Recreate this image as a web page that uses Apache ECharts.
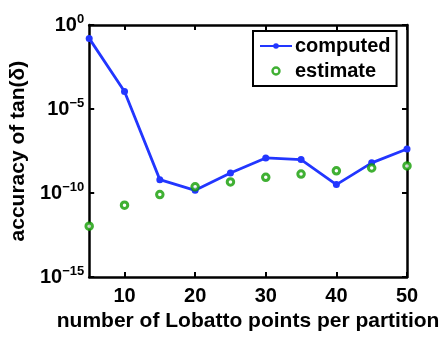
<!DOCTYPE html>
<html>
<head>
<meta charset="utf-8">
<script src="https://cdn.jsdelivr.net/npm/echarts@6/dist/echarts.min.js"></script>
<style>html,body{margin:0;padding:0;background:#fff}#c{width:448px;height:337px}</style>
</head>
<body>
<div id="c"></div>
<script>
const points = [5, 10, 15, 20, 25, 30, 35, 40, 45, 50];
const computed = [1.6e-1, 1.1e-4, 6.3e-10, 1.45e-10, 1.55e-9, 1.23e-8, 9.8e-9, 3.2e-10, 6.3e-9, 4.2e-8];
const estimate = [1.07e-12, 1.9e-11, 8.1e-11, 2.35e-10, 4.6e-10, 8.7e-10, 1.35e-9, 2.1e-9, 3.1e-9, 4.1e-9];
const xTicks = [10, 20, 30, 40, 50];

const FONT = '"Liberation Sans", Arial, sans-serif';
const GREEN = '#109c00';
const BLUE = '#2236ff';
const chart = echarts.init(document.getElementById('c'), null, {renderer: 'canvas'});
const pair = (xs, ys) => xs.map((x, i) => [x, ys[i]]);
const yFmt = v => {
  const e = Math.round(Math.log10(v));
  return '{b|10}{s|' + (e < 0 ? '\u2212' + (-e) : e) + '}';
};
const yRich = {
  b: {fontSize: 20, fontWeight: 'bold', fontFamily: FONT, color: '#000'},
  s: {fontSize: 13, fontWeight: 'bold', fontFamily: FONT, color: '#000', verticalAlign: 'bottom', padding: [0, 0, 12, 0]}
};
const tick = {inside: true, length: 5, lineStyle: {color: '#000', width: 2}};
chart.setOption({
  animation: false,
  grid: {left: 84, right: 41, top: 25, bottom: 50, show: false},
  legend: {
    left: 253, top: 31,
    orient: 'vertical', itemGap: 5, itemWidth: 32, itemHeight: 7,
    borderColor: '#000', borderWidth: 2, padding: [5, 6, 5, 6],
    backgroundColor: '#fff',
    textStyle: {fontSize: 20, fontWeight: 'bold', fontFamily: FONT, color: '#000', padding: [0, 0, 0, -2]},
    data: ['computed', {name: 'estimate', icon: 'circle', itemStyle: {color: '#fff', borderColor: GREEN, borderWidth: 2.4}}]
  },
  xAxis: [{
    type: 'value', min: 5, max: 50,
    name: 'number of Lobatto points per partition', nameLocation: 'middle', nameGap: 28,
    nameTextStyle: {fontSize: 21, fontWeight: 'bold', fontFamily: FONT, color: '#000'},
    axisLine: {onZero: false, lineStyle: {color: '#000', width: 2.5}},
    axisTick: Object.assign({customValues: xTicks}, tick),
    axisLabel: {customValues: xTicks, fontSize: 20, fontWeight: 'bold', fontFamily: FONT, color: '#000', margin: 9},
    splitLine: {show: false}
  }, {
    type: 'value', min: 5, max: 50, position: 'top',
    axisLine: {onZero: false, lineStyle: {color: '#000', width: 2.5}},
    axisTick: Object.assign({customValues: xTicks}, tick),
    axisLabel: {show: false},
    splitLine: {show: false}
  }],
  yAxis: [{
    type: 'log', logBase: 10, min: 1e-15, max: 1, interval: 5,
    name: 'accuracy of tan(\u03b4)', nameLocation: 'middle', nameGap: 57, nameRotate: 90,
    nameTextStyle: {fontSize: 21, fontWeight: 'bold', fontFamily: FONT, color: '#000'},
    axisLine: {onZero: false, lineStyle: {color: '#000', width: 2.5}},
    axisTick: tick,
    axisLabel: {formatter: yFmt, rich: yRich, margin: 5},
    splitLine: {show: false}
  }, {
    type: 'log', logBase: 10, min: 1e-15, max: 1, interval: 5, position: 'right',
    axisLine: {onZero: false, lineStyle: {color: '#000', width: 2.5}},
    axisTick: tick,
    axisLabel: {show: false},
    splitLine: {show: false}
  }],
  series: [{
    name: 'computed', type: 'line', data: pair(points, computed),
    symbol: 'circle', symbolSize: 7, showSymbol: true,
    lineStyle: {color: BLUE, width: 2.8},
    itemStyle: {color: BLUE}
  }, {
    name: 'estimate', type: 'scatter', data: pair(points, estimate), clip: false,
    symbol: 'circle', symbolSize: 6.5, z: 3,
    itemStyle: {color: '#ffffff', borderColor: GREEN, borderWidth: 3}
  }]
});
</script>
</body>
</html>
